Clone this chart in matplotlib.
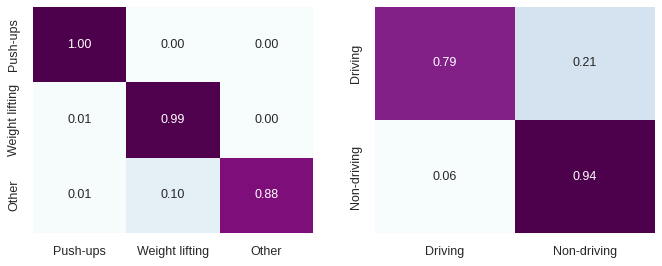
import numpy as np
import matplotlib
matplotlib.use("Agg")
import matplotlib.pyplot as plt
import seaborn as sns

# confusion matrices
activity_labels = ["Push-ups", "Weight lifting", "Other"]
activity_cm = [[1.00, 0.00, 0.00],
               [0.01, 0.99, 0.00],
               [0.01, 0.10, 0.88]]

driving_labels = ["Driving", "Non-driving"]
driving_cm = [[0.79, 0.21],
              [0.06, 0.94]]

sns.set_style("white")
plt.rcParams['font.family'] = ['Liberation Sans', 'DejaVu Sans']

fig = plt.figure(figsize=(662 / 72, 266 / 72), dpi=72)
ax1 = fig.add_axes([33 / 662, 33 / 266, 280 / 662, 226 / 266])
ax2 = fig.add_axes([375 / 662, 33 / 266, 280 / 662, 226 / 266])

for ax, cm, labels in [(ax1, activity_cm, activity_labels),
                       (ax2, driving_cm, driving_labels)]:
    sns.heatmap(np.array(cm), annot=True, fmt=".2f", cmap="BuPu", cbar=False,
                xticklabels=labels, yticklabels=labels, ax=ax,
                annot_kws={"size": 12.5})
    ax.tick_params(axis="x", length=0, labelsize=12.5, pad=13)
    ax.tick_params(axis="y", length=0, labelsize=12.5, pad=13)
    plt.setp(ax.get_yticklabels(), rotation=90, va="center")
    plt.setp(ax.get_xticklabels(), rotation=0)

fig.savefig("out.png", dpi=72)
